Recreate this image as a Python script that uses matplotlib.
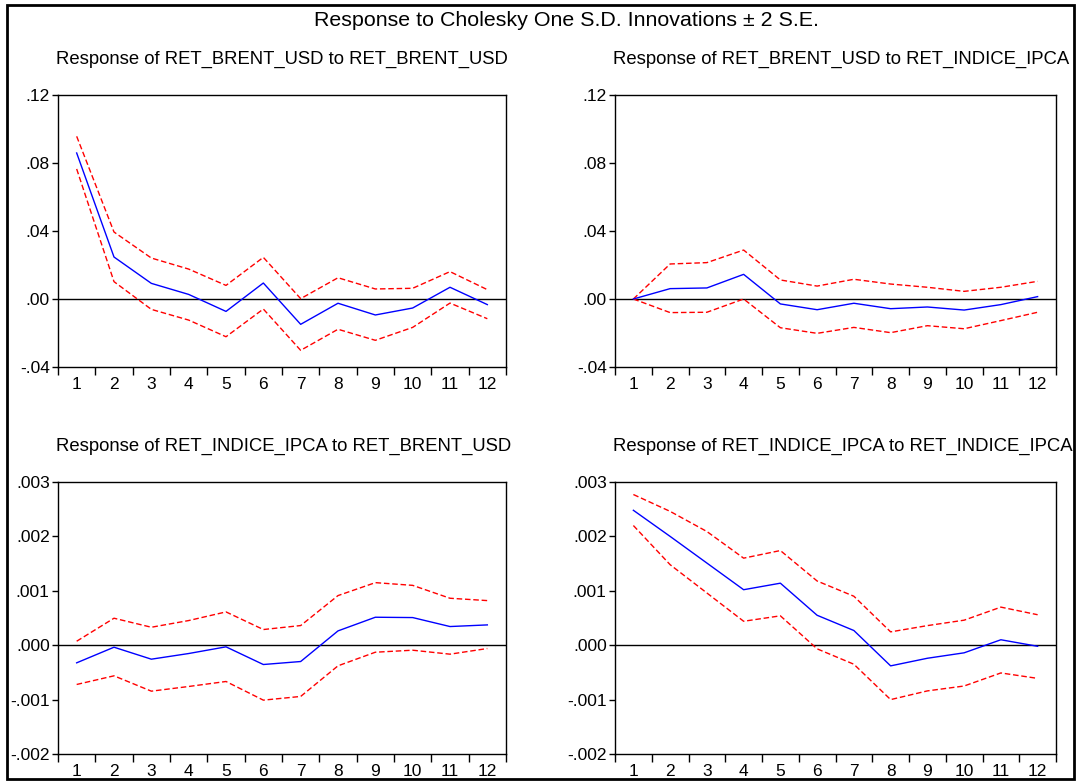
import matplotlib
matplotlib.use("Agg")
import matplotlib.pyplot as plt
from matplotlib.ticker import FixedLocator, NullFormatter, FuncFormatter
from matplotlib.patches import Rectangle

plt.rcParams['font.family'] = ['Liberation Sans', 'DejaVu Sans']

periods = list(range(1, 13))

# response of RET_BRENT_USD to RET_BRENT_USD
brent_brent = [0.0859, 0.0247, 0.0092, 0.0027, -0.0073, 0.0094, -0.0149, -0.0025, -0.0094, -0.0053, 0.0069, -0.0033]
brent_brent_hi = [0.0957, 0.0394, 0.0241, 0.0176, 0.0080, 0.0245, 0.0002, 0.0125, 0.0059, 0.0063, 0.0161, 0.0055]
brent_brent_lo = [0.0765, 0.0102, -0.0061, -0.0124, -0.0222, -0.0059, -0.0302, -0.0178, -0.0243, -0.0167, -0.0024, -0.0116]

# response of RET_BRENT_USD to RET_INDICE_IPCA
brent_ipca = [0.0, 0.0061, 0.0065, 0.0145, -0.0029, -0.0063, -0.0025, -0.0057, -0.0047, -0.0065, -0.0033, 0.0014]
brent_ipca_hi = [0.0, 0.0206, 0.0214, 0.0288, 0.0112, 0.0076, 0.0116, 0.0088, 0.0069, 0.0045, 0.0069, 0.0104]
brent_ipca_lo = [0.0, -0.0080, -0.0078, 0.0, -0.0169, -0.0202, -0.0167, -0.0198, -0.0157, -0.0175, -0.0127, -0.0078]

# response of RET_INDICE_IPCA to RET_BRENT_USD
ipca_brent = [-0.000324, -0.000037, -0.000257, -0.000153, -0.00003, -0.000355, -0.0003, 0.000263, 0.000514, 0.000508, 0.000343, 0.000373]
ipca_brent_hi = [0.000073, 0.000496, 0.00033, 0.000453, 0.000612, 0.000288, 0.000361, 0.000912, 0.00115, 0.0011, 0.000863, 0.00082]
ipca_brent_lo = [-0.000722, -0.000563, -0.000845, -0.000759, -0.000667, -0.00101, -0.000942, -0.000379, -0.000129, -0.000092, -0.000165, -0.000061]

# response of RET_INDICE_IPCA to RET_INDICE_IPCA
ipca_ipca = [0.00248, 0.0020, 0.00151, 0.00102, 0.00114, 0.00055, 0.00027, -0.00038, -0.00024, -0.00014, 0.0001, -0.00002]
ipca_ipca_hi = [0.00277, 0.00246, 0.00209, 0.0016, 0.00174, 0.00118, 0.0009, 0.000245, 0.00036, 0.00046, 0.0007, 0.00056]
ipca_ipca_lo = [0.0022, 0.00148, 0.00096, 0.00044, 0.00054, -0.000067, -0.00035, -0.001, -0.00084, -0.00075, -0.00051, -0.00061]

titles = ["Response of RET_BRENT_USD to RET_BRENT_USD",
          "Response of RET_BRENT_USD to RET_INDICE_IPCA",
          "Response of RET_INDICE_IPCA to RET_BRENT_USD",
          "Response of RET_INDICE_IPCA to RET_INDICE_IPCA"]

top_ticks = [-0.04, 0.00, 0.04, 0.08, 0.12]
bot_ticks = [-0.002, -0.001, 0.000, 0.001, 0.002, 0.003]

W, H = 1078, 782
fig = plt.figure(figsize=(W / 100, H / 100), dpi=100)

# outer frame
fig.patches.append(Rectangle((7 / W, 1 - 779 / H), (1074 - 7) / W, (779 - 5) / H,
                             transform=fig.transFigure, fill=False, lw=2, ec='black'))

fig.text(566 / W, 1 - 20 / H, "Response to Cholesky One S.D. Innovations \u00b1 2 S.E.",
         ha='center', va='center', fontsize=15.4)


def fmt_top(v, pos):
    s = "%.2f" % v
    return s.replace("0.", ".", 1)


def fmt_bot(v, pos):
    s = "%.3f" % v
    return s.replace("0.", ".", 1)


panels = [
    (58, 506, 95, 367, brent_brent, brent_brent_hi, brent_brent_lo, top_ticks, fmt_top, 56, 59),
    (615, 1056, 95, 367, brent_ipca, brent_ipca_hi, brent_ipca_lo, top_ticks, fmt_top, 613, 59),
    (58, 506, 482, 754, ipca_brent, ipca_brent_hi, ipca_brent_lo, bot_ticks, fmt_bot, 56, 446),
    (615, 1056, 482, 754, ipca_ipca, ipca_ipca_hi, ipca_ipca_lo, bot_ticks, fmt_bot, 613, 446),
]

for i, (l, r, t, b, mid, hi, lo, yt, fmt, tx, ty) in enumerate(panels):
    ax = fig.add_axes([l / W, 1 - b / H, (r - l) / W, (b - t) / H])
    ax.axhline(0, color='black', lw=1)
    ax.plot(periods, hi, color='#ff0000', lw=1, dashes=(4, 2))
    ax.plot(periods, lo, color='#ff0000', lw=1, dashes=(4, 2))
    ax.plot(periods, mid, color='#0000ff', lw=1)
    ax.set_xlim(0.5, 12.5)
    ax.set_ylim(yt[0], yt[-1])
    ax.set_yticks(yt)
    ax.yaxis.set_major_formatter(FuncFormatter(fmt))
    ax.xaxis.set_major_locator(FixedLocator([x + 0.5 for x in range(0, 13)]))
    ax.xaxis.set_major_formatter(NullFormatter())
    ax.xaxis.set_minor_locator(FixedLocator(periods))
    ax.set_xticklabels([str(p) for p in periods], minor=True)
    ax.tick_params(axis='x', which='major', direction='out', length=6, width=1)
    ax.tick_params(axis='x', which='minor', length=0, labelsize=12.5, pad=7)
    ax.tick_params(axis='y', direction='out', length=4, width=1, labelsize=12.5, pad=2)
    for sp in ax.spines.values():
        sp.set_linewidth(1)
    fig.text(tx / W, 1 - ty / H, titles[i], ha='left', va='center', fontsize=13.3)

fig.savefig("out.png", dpi=100)
